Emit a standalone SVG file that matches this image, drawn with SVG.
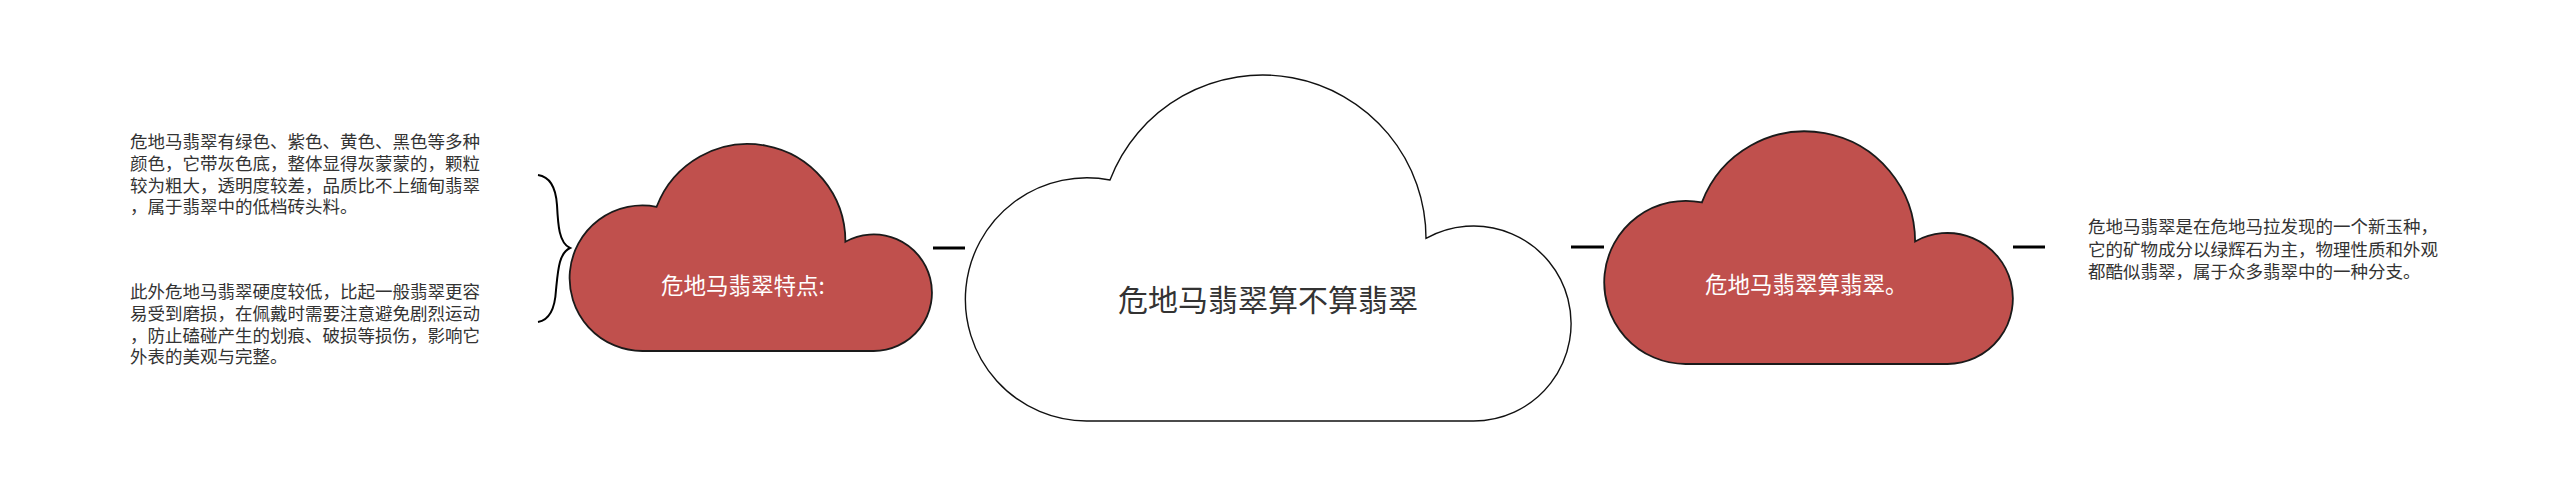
<svg xmlns="http://www.w3.org/2000/svg" width="2560" height="496" viewBox="0 0 2560 496">
<style>
.cloud-red{fill:#C0504D;stroke:#1a1a1a;stroke-width:1.8}
.cloud-main{fill:#ffffff;stroke:#111111;stroke-width:1.4}
.lbl-white{font-family:"Noto Sans CJK SC","Noto Sans",sans-serif;font-size:22.5px;fill:#ffffff}
.lbl-main{font-family:"Noto Sans CJK SC","Noto Sans",sans-serif;font-size:30px;fill:#333333}
.para{font-family:"Noto Sans CJK SC","Noto Sans",sans-serif;font-size:17.5px;fill:#333333}
.conn{stroke:#000000;stroke-width:3;fill:none}
.brace{stroke:#000000;stroke-width:2;fill:none}
</style>
<rect width="2560" height="496" fill="#ffffff"/>
<g id="connectors">
<line class="conn" x1="933" y1="248" x2="965" y2="248"/>
<line class="conn" x1="1571" y1="247" x2="1604" y2="247"/>
<line class="conn" x1="2013" y1="247" x2="2045" y2="247" stroke-width="2.5"/>
<path class="brace" d="M 538 175 C 552 177 556 190 557 205 C 558 225 559 243 570 248 C 559 253 558 270 556 290 C 555 308 550 320 538 322"/>
</g>
<g id="node-main">
<path class="cloud-main" d="M 1086.6 421 A 121.6 121.6 0 1 1 1110 180 A 163.4 163.4 0 0 1 1426 238.4 A 97.5 97.5 0 1 1 1473.5 421 Z"/>
<text class="lbl-main" x="1268" y="310.5" text-anchor="middle">危地马翡翠算不算翡翠</text>
</g>
<g id="node-features">
<path class="cloud-red" d="M 642.8 351 A 72.8 72.8 0 1 1 656.6 206.8 A 97.6 97.6 0 0 1 845.4 241.7 A 58.3 58.3 0 1 1 873.7 351 Z"/>
<text class="lbl-white" x="661" y="293.5">危地马翡翠特点:</text>
</g>
<g id="node-answer">
<path class="cloud-red" d="M 1685.6 364 A 81.6 81.6 0 1 1 1701.9 202.4 A 110.2 110.2 0 0 1 1915.1 241.5 A 65.5 65.5 0 1 1 1947.5 364 Z"/>
<text class="lbl-white" x="1705" y="292.5">危地马翡翠算翡翠。</text>
</g>
<g id="node-text-color">
<text class="para" x="130" y="148.3">危地马翡翠有绿色、紫色、黄色、黑色等多种</text>
<text class="para" x="130" y="170">颜色，它带灰色底，整体显得灰蒙蒙的，颗粒</text>
<text class="para" x="130" y="191.6">较为粗大，透明度较差，品质比不上缅甸翡翠</text>
<text class="para" x="130" y="213.3">，属于翡翠中的低档砖头料。</text>
</g>
<g id="node-text-hardness">
<text class="para" x="130" y="298.3">此外危地马翡翠硬度较低，比起一般翡翠更容</text>
<text class="para" x="130" y="320">易受到磨损，在佩戴时需要注意避免剧烈运动</text>
<text class="para" x="130" y="341.6">，防止磕碰产生的划痕、破损等损伤，影响它</text>
<text class="para" x="130" y="363.3">外表的美观与完整。</text>
</g>
<g id="node-text-answer">
<text class="para" x="2088" y="233.3">危地马翡翠是在危地马拉发现的一个新玉种，</text>
<text class="para" x="2088" y="255.8">它的矿物成分以绿辉石为主，物理性质和外观</text>
<text class="para" x="2088" y="278.3">都酷似翡翠，属于众多翡翠中的一种分支。</text>
</g>
</svg>
